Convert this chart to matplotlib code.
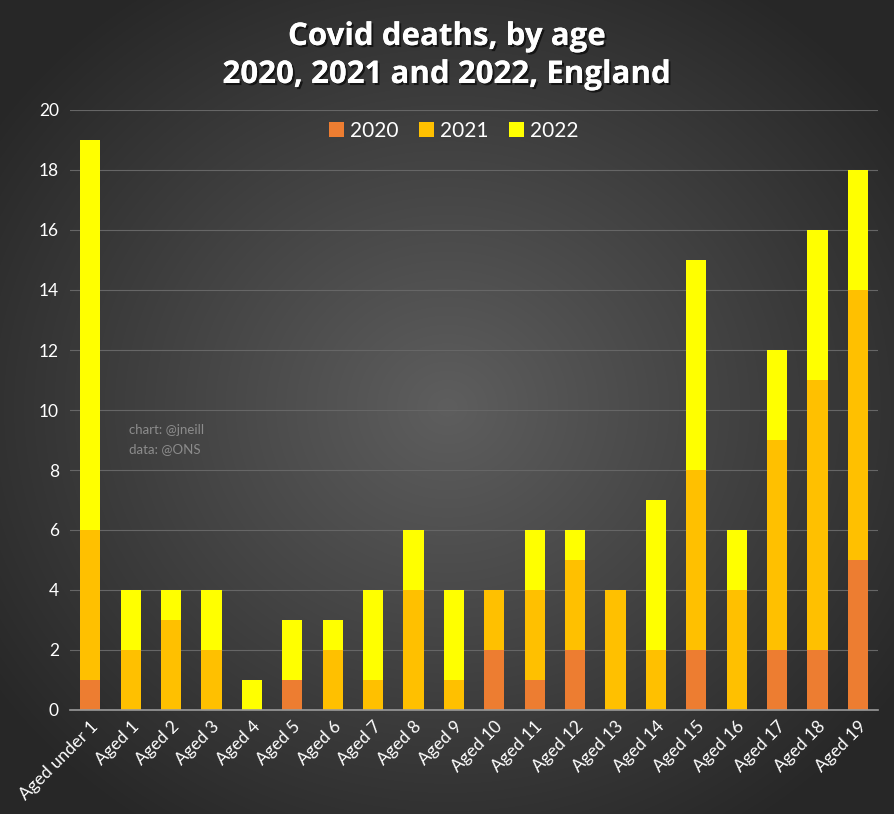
import numpy as np
import matplotlib
matplotlib.use("Agg")
import matplotlib.pyplot as plt
import matplotlib.patheffects as pe

categories = ["Aged under 1", "Aged 1", "Aged 2", "Aged 3", "Aged 4", "Aged 5", "Aged 6",
              "Aged 7", "Aged 8", "Aged 9", "Aged 10", "Aged 11", "Aged 12", "Aged 13",
              "Aged 14", "Aged 15", "Aged 16", "Aged 17", "Aged 18", "Aged 19"]
deaths_2020 = [1, 0, 0, 0, 0, 1, 0, 0, 0, 0, 2, 1, 2, 0, 0, 2, 0, 2, 2, 5]
deaths_2021 = [5, 2, 3, 2, 0, 0, 2, 1, 4, 1, 2, 3, 3, 4, 2, 6, 4, 7, 9, 9]
deaths_2022 = [13, 2, 1, 2, 1, 2, 1, 3, 2, 3, 0, 2, 1, 0, 5, 7, 2, 3, 5, 4]
series_names = ["2020", "2021", "2022"]
colors = ["#ED7D31", "#FFC000", "#FFFF00"]
yticks = [0, 2, 4, 6, 8, 10, 12, 14, 16, 18, 20]

plt.rcParams['font.family'] = ['Lato', 'DejaVu Sans']

W, H = 894, 814
fig = plt.figure(figsize=(W / 100, H / 100), dpi=100)

# radial gradient background
bg = fig.add_axes([0, 0, 1, 1], zorder=-10)
yy, xx = np.mgrid[0:H, 0:W]
r = np.sqrt(((xx - W * 0.5) / (W * 0.62)) ** 2 + ((yy - H * 0.5) / (H * 0.62)) ** 2)
r = np.clip(r, 0, 1)
c0, c1 = 0x5e / 255, 0x27 / 255
g = c0 + (c1 - c0) * r
img = np.dstack([g, g, g])
bg.imshow(img, aspect='auto', extent=[0, 1, 0, 1], origin='upper')
bg.axis('off')

ax = fig.add_axes([70 / W, 1 - 710 / H, (878 - 70) / W, 600 / H])
ax.set_facecolor('none')
x = np.arange(len(categories))
b1 = np.array(deaths_2020)
b2 = np.array(deaths_2021)
b3 = np.array(deaths_2022)
ax.bar(x, b1, width=0.5, color=colors[0], label=series_names[0], zorder=3)
ax.bar(x, b2, width=0.5, bottom=b1, color=colors[1], label=series_names[1], zorder=3)
ax.bar(x, b3, width=0.5, bottom=b1 + b2, color=colors[2], label=series_names[2], zorder=3)

ax.set_xlim(-0.5, len(categories) - 0.5)
ax.set_ylim(0, 20)
ax.set_yticks(yticks)
ax.set_yticklabels([str(v) for v in yticks], color='white', fontsize=12.5)
ax.set_xticks(x)
ax.set_xticklabels(categories, rotation=45, ha='right', rotation_mode='anchor',
                   color='white', fontsize=12.5)
ax.tick_params(axis='both', length=0, pad=8)
ax.tick_params(axis='x', pad=6)
for s in ['top', 'right', 'left']:
    ax.spines[s].set_visible(False)
ax.spines['bottom'].set_color('#9a9a9a')
ax.spines['bottom'].set_linewidth(1.2)
ax.spines['bottom'].set_zorder(4)
ax.yaxis.grid(True, color='#666666', linewidth=0.8, zorder=0)
ax.set_axisbelow(True)

leg = ax.legend(loc='center', bbox_to_anchor=(0.475, 1 - 21 / 600), ncol=3, frameon=False,
                fontsize=15, handlelength=0.7, handleheight=0.7, handletextpad=0.3,
                columnspacing=1.0, labelcolor='white')

shadow = [pe.withSimplePatchShadow(offset=(1.5, -1.5), shadow_rgbFace='black', alpha=0.6), pe.Normal()]
t1 = fig.text(0.5, 1 - 37 / H, "Covid deaths, by age", ha='center', va='center',
              color='white', fontsize=22.5, fontweight='bold', family=['Open Sans', 'DejaVu Sans'])
t1.set_path_effects(shadow)
t2 = fig.text(0.5, 1 - 75 / H, "2020, 2021 and 2022, England", ha='center', va='center',
              color='white', fontsize=22.5, fontweight='bold', family=['Open Sans', 'DejaVu Sans'])
t2.set_path_effects(shadow)

fig.text(129 / W, 1 - 430 / H, "chart: @jneill", color='#8c8c8c', fontsize=9.5, va='center')
fig.text(129 / W, 1 - 449 / H, "data: @ONS", color='#8c8c8c', fontsize=9.5, va='center')

fig.savefig("out.png", dpi=100)
